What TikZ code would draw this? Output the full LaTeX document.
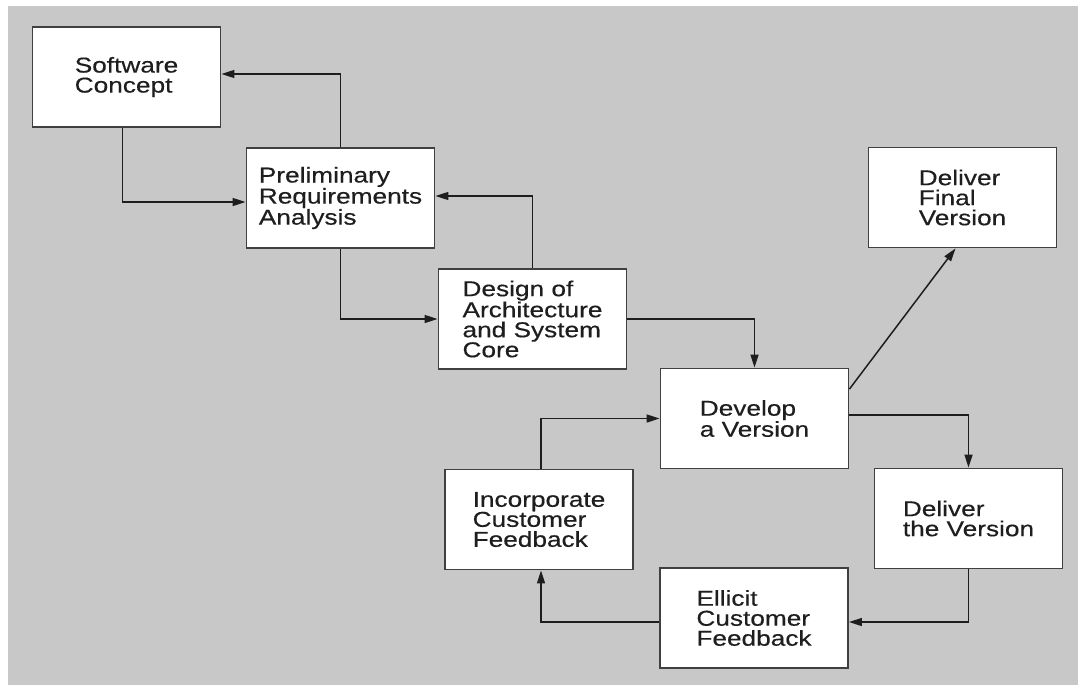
\documentclass[tikz,border=0pt]{standalone}
\usepackage{fontspec}
\setmainfont{Liberation Sans}[FakeStretch=1.22,FakeBold=0.4]
\usetikzlibrary{arrows.meta,calc}
\definecolor{bg}{RGB}{200,200,200}
\definecolor{edge}{RGB}{64,64,64}
\definecolor{ink}{RGB}{30,30,30}
\tikzset{
  box/.style={draw=edge, line width=1.9pt, fill=white, minimum width=188pt,
    minimum height=100pt, align=left, font=\fontsize{21.5}{20}\selectfont,
    text=ink, inner sep=0pt},
  arr/.style={draw=ink, line width=1.5pt, -{Triangle[length=13pt,width=8pt]}},
}
\begin{document}
\begin{tikzpicture}[x=1pt,y=-1pt]
\useasboundingbox (0,0) rectangle (1078,685);
\fill[white] (0,0) rectangle (1078,685);
\fill[bg] (8,6) rectangle (1078,685);

\node[box] (SC) at (126.5,77) {Software\\Concept};
\node[box] (PR) at (340.5,198) {Preliminary\\Requirements\\Analysis};
\node[box] (DS) at (532.5,319) {Design of\\Architecture\\and System\\Core};
\node[box] (DV) at (754.5,418.5) {Develop\\a Version};
\node[box] (DF) at (962.5,197.5) {Deliver\\Final\\Version};
\node[box] (DT) at (968.5,518.5) {Deliver\\the Version};
\node[box] (EL) at (754,618) {Ellicit\\Customer\\Feedback};
\node[box] (IN) at (539,519.5) {Incorporate\\Customer\\Feedback};

\draw[arr] (PR.north) |- ($(SC.east)+(0,-3)$);
\draw[arr] ($(SC.south)+(-4,0)$) |- ($(PR.west)+(0,4)$);
\draw[arr] (DS.north) |- ($(PR.east)+(0,-2)$);
\draw[arr] (PR.south) |- (DS.west);
\draw[arr] (DS.east) -| (DV.north);
\draw[arr] ($(DV.north east)+(0,21.5)$) -- ($(DF.south)+(-7,0)$);
\draw[arr] ($(DV.east)+(0,-3.5)$) -| (DT.north);
\draw[arr] (DT.south) |- ($(EL.east)+(0,4)$);
\draw[arr] ($(EL.west)+(0,4)$) -| ($(IN.south)+(2,0)$);
\draw[arr] ($(IN.north)+(2,0)$) |- (DV.west);
\end{tikzpicture}
\end{document}
